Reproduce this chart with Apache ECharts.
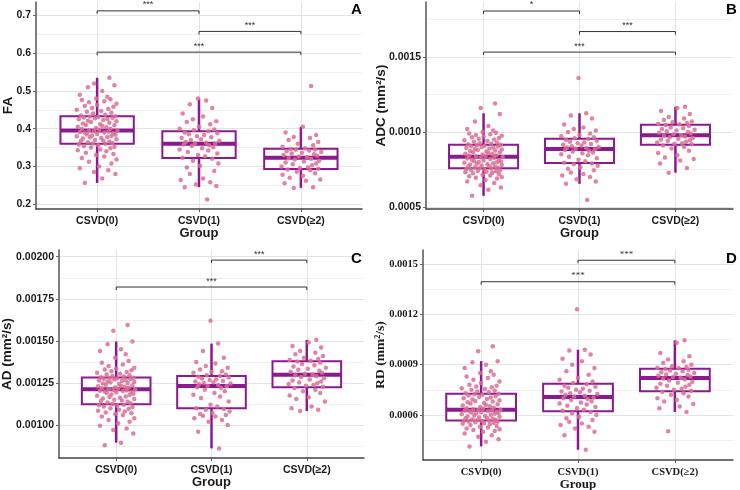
<!DOCTYPE html>
<html><head><meta charset="utf-8">
<script src="https://cdn.jsdelivr.net/npm/echarts@6/dist/echarts.min.js"></script>
<style>html,body{margin:0;padding:0;background:#fff}#c{width:740px;height:490px}</style>
</head><body><div id="c"></div>
<script>
// ---------- categories ----------
const categories = ['CSVD(0)', 'CSVD(1)', 'CSVD(≥2)'];

// ---------- horizontal jitter offsets (category units) ----------
const jitter0 = [-0.12,0.05,0.18,-0.03,0.11,-0.17,0.02,0.14,-0.08,0.19,-0.15,0.07,-0.01,0.16,-0.11,0.09,-0.19,0.03,0.13,-0.06,
0.17,-0.13,0.01,-0.18,0.08,-0.04,0.15,-0.09,0.12,-0.16,0.06,-0.02,0.19,-0.14,0.04,-0.07,0.10,-0.20,0.14,-0.05,
0.18,-0.10,0.00,0.16,-0.12,0.07,-0.17,0.11,-0.03,0.20,-0.08,0.02,-0.15,0.13,-0.01,0.09,-0.19,0.05,0.17,-0.11,
0.03,-0.14,0.12,-0.06,0.19,-0.09,0.06,-0.18,0.10,-0.02,0.15,-0.13,0.01,-0.07,0.18,-0.16,0.08,-0.04,0.14,-0.10,
0.04,-0.20,0.11,-0.05,0.16,-0.12,0.00,0.19,-0.08,0.07,-0.15,0.13,-0.01,0.10,-0.17,0.05,-0.09,0.17,-0.03,0.12];
const jitter1 = [0.08,-0.14,0.17,-0.03,0.11,-0.18,0.04,-0.09,0.15,-0.12,0.01,0.19,-0.06,0.13,-0.16,0.06,-0.01,0.18,-0.11,0.09,
-0.19,0.03,0.14,-0.07,0.10,-0.15,0.16,-0.04,0.07,-0.13,0.20,-0.08,0.02,-0.17,0.12,-0.02,0.05,-0.10,0.18,-0.14,
0.09,-0.05,0.15,-0.19,0.00,0.11,-0.12,0.17,-0.06,0.04,-0.16,0.13,-0.09,0.07,-0.01];
const jitter2 = [-0.07,0.12,-0.16,0.05,0.19,-0.11,0.02,-0.18,0.14,-0.04,0.09,-0.13,0.17,-0.01,0.07,-0.19,0.11,-0.08,0.15,-0.15,
0.03,0.18,-0.06,0.10,-0.12,0.06,-0.02,0.16,-0.17,0.13,-0.09,0.01,0.20,-0.14,0.08,-0.05,0.14,-0.10,0.04,-0.18,
0.12,-0.03,0.17,-0.12,0.09,-0.07,0.15,-0.15,0.02,0.10];

// ---------- FA ----------
const faG0 = [0.256,0.268,0.28,0.285,0.29,0.295,0.30,0.308,0.312,0.318,0.322,0.326,0.33,0.333,0.336,0.34,0.343,0.345,0.348,0.35,0.352,0.354,0.356,0.358,0.36,
0.361,0.362,0.364,0.366,0.367,0.369,0.37,0.372,0.374,0.375,0.377,0.378,0.38,0.381,0.382,0.384,0.385,0.386,0.388,0.389,0.39,0.391,0.392,0.393,0.395,
0.396,0.397,0.399,0.40,0.402,0.404,0.405,0.407,0.409,0.41,0.412,0.414,0.416,0.418,0.42,0.421,0.423,0.425,0.426,0.428,0.429,0.43,0.431,0.432,0.433,
0.435,0.437,0.44,0.442,0.445,0.447,0.45,0.452,0.455,0.458,0.46,0.463,0.466,0.47,0.473,0.476,0.478,0.48,0.485,0.49,0.50,0.51,0.515,0.52,0.535];
const faG1 = [0.212,0.245,0.248,0.252,0.258,0.264,0.268,0.28,0.288,0.297,0.302,0.308,0.315,0.32,
0.323,0.327,0.33,0.334,0.338,0.342,0.345,0.348,0.351,0.354,0.356,0.358,0.36,
0.361,0.363,0.365,0.368,0.37,0.372,0.375,0.377,0.38,0.383,0.385,0.388,0.39,0.393,
0.396,0.398,0.40,0.405,0.412,0.418,0.42,0.425,0.432,0.44,0.455,0.465,0.475,0.48];
const faG2 = [0.243,0.245,0.255,0.262,0.265,0.27,0.275,0.278,0.282,0.286,0.29,0.292,
0.294,0.296,0.298,0.30,0.303,0.306,0.308,0.31,0.313,0.315,0.318,0.32,0.322,
0.324,0.326,0.328,0.33,0.332,0.334,0.336,0.338,0.34,0.342,0.344,0.345,0.346,
0.348,0.352,0.356,0.36,0.365,0.37,0.375,0.378,0.383,0.39,0.405,0.513];
const faBox = [[0.256,0.36,0.395,0.433,0.535],[0.245,0.322,0.36,0.393,0.48],[0.243,0.293,0.323,0.347,0.405]];
const faSig = [[1,2,0.7125,'***'],[2,3,0.658,'***'],[1,3,0.603,'***']];
const faTicks = ['0.2','0.3','0.4','0.5','0.6','0.7'];
const faMinor = [0.25,0.35,0.45,0.55,0.65];

// ---------- ADC ----------
const adcG0 = [0.000575,0.000615,0.00063,0.000645,0.00066,0.00067,0.00068,0.00069,0.000695,0.0007,0.000705,0.00071,0.000715,0.00072,0.000725,0.000728,0.000732,0.000735,0.000738,0.000741,0.000745,0.000748,0.000751,0.000754,0.000757,
0.000759,0.000762,0.000765,0.000768,0.000771,0.000774,0.000777,0.00078,0.000783,0.000786,0.000789,0.000792,0.000795,0.000798,0.000801,0.000804,0.000807,0.00081,0.000813,0.000816,0.00082,0.000824,0.000828,0.000831,0.000834,
0.000837,0.00084,0.000843,0.000846,0.00085,0.000853,0.000856,0.00086,0.000863,0.000866,0.00087,0.000873,0.000877,0.00088,0.000884,0.000887,0.000891,0.000894,0.000897,0.0009,0.000903,0.000906,0.000909,0.000912,0.000915,
0.000918,0.000922,0.000926,0.00093,0.000935,0.00094,0.000945,0.00095,0.000955,0.00096,0.000965,0.00097,0.000975,0.00098,0.000985,0.00099,0.000995,0.001,0.00101,0.00102,0.00104,0.00107,0.00112,0.00116,0.00119];
const adcG1 = [0.000547,0.000655,0.00067,0.000685,0.0007,0.00071,0.00072,0.00073,0.000745,0.000755,0.000765,0.000775,0.000785,0.00079,
0.000796,0.000805,0.000815,0.000825,0.000835,0.000845,0.000852,0.000858,0.000864,0.00087,0.000876,0.000881,0.000886,
0.000889,0.000893,0.000897,0.0009,0.000905,0.00091,0.000915,0.00092,0.000925,0.00093,0.000936,0.000942,0.000948,0.000954,
0.000958,0.000965,0.000972,0.00098,0.00099,0.001,0.00101,0.00102,0.00103,0.00105,0.00109,0.00111,0.001125,0.00136];
const adcG2 = [0.000729,0.00076,0.00079,0.00081,0.00082,0.00083,0.000845,0.00086,0.000875,0.00089,0.0009,0.00091,
0.000918,0.000922,0.000926,0.00093,0.000935,0.00094,0.000945,0.00095,0.000955,0.00096,0.000965,0.00097,0.000976,
0.00098,0.000985,0.00099,0.000995,0.001,0.001005,0.00101,0.001015,0.00102,0.001025,0.00103,0.00104,0.001047,
0.001052,0.001056,0.00106,0.001065,0.00107,0.00108,0.00109,0.0011,0.00112,0.00114,0.00116,0.001169];
const adcBox = [[0.000575,0.000758,0.000835,0.000916,0.001125],[0.000655,0.000793,0.000887,0.000955,0.001125],[0.000729,0.000916,0.000978,0.001049,0.001169]];
const adcSig = [[1,2,0.001807,'*'],[2,3,0.00167,'***'],[1,3,0.001533,'***']];
const adcTicks = ['0.0005','0.0010','0.0015'];
const adcMinor = [0.00075,0.00125,0.00175];

// ---------- AD ----------
const adG0 = [0.00088,0.000895,0.00095,0.00097,0.00098,0.000995,0.00101,0.00102,0.00103,0.00104,0.00105,0.00106,0.001065,0.00107,0.001075,0.00108,0.001085,0.00109,0.001095,0.0011,0.001105,0.00111,0.001115,0.001118,0.001121,
0.001125,0.00113,0.001134,0.001138,0.001142,0.001146,0.00115,0.001154,0.001158,0.001162,0.001166,0.00117,0.001174,0.001178,0.001182,0.001186,0.00119,0.001193,0.001196,0.001199,0.001202,0.001204,0.001207,0.001209,0.001211,
0.001213,0.001216,0.001219,0.001222,0.001225,0.001228,0.001231,0.001234,0.001237,0.00124,0.001243,0.001246,0.001249,0.001252,0.001255,0.001258,0.001261,0.001264,0.001267,0.00127,0.001272,0.001275,0.001277,0.001279,0.001281,
0.001284,0.001288,0.001292,0.001296,0.0013,0.001305,0.00131,0.001315,0.00132,0.001325,0.00133,0.001335,0.00134,0.00135,0.00136,0.00137,0.00138,0.0014,0.00142,0.00144,0.00145,0.00148,0.001496,0.00156,0.001595];
const adG1 = [0.000861,0.00096,0.001,0.00102,0.00103,0.00104,0.00105,0.001055,0.00106,0.001065,0.00107,0.00108,0.00109,0.001095,
0.0011,0.00111,0.00112,0.00114,0.00116,0.00117,0.00118,0.00119,0.0012,0.00121,0.00122,0.001225,0.00123,
0.001234,0.001238,0.001242,0.001246,0.00125,0.001254,0.001258,0.001262,0.001267,0.001272,0.001277,0.001282,0.001287,0.001291,
0.001295,0.0013,0.00131,0.001315,0.00132,0.00133,0.00134,0.00135,0.001365,0.001375,0.0014,0.00144,0.001484,0.00162];
const adG2 = [0.001083,0.00109,0.0011,0.00111,0.00114,0.001155,0.001165,0.001175,0.00119,0.0012,0.00121,0.00122,
0.001228,0.001233,0.001238,0.001243,0.001248,0.001253,0.001258,0.001264,0.00127,0.001278,0.001285,0.00129,0.001296,
0.0013,0.001305,0.00131,0.001316,0.001322,0.001328,0.001334,0.00134,0.001347,0.001355,0.001362,0.00137,0.001377,
0.001382,0.001387,0.001393,0.0014,0.00141,0.00142,0.00143,0.00144,0.00146,0.00147,0.00149,0.001506];
const adBox = [[0.000895,0.001123,0.001212,0.001282,0.001496],[0.000861,0.001099,0.001232,0.001292,0.001484],[0.001083,0.001225,0.001298,0.001379,0.001506]];
const adSig = [[2,3,0.00198,'***'],[1,3,0.00182,'***']];
const adTicks = ['0.00100','0.00125','0.00150','0.00175','0.00200'];
const adMinor = [0.000875,0.001125,0.001375,0.001625,0.001875];

// ---------- RD ----------
const rdG0 = [0.000413,0.00044,0.000455,0.00047,0.00048,0.00049,0.0005,0.000505,0.00051,0.000515,0.00052,0.000525,0.00053,0.000535,0.00054,0.000545,0.000548,0.000551,0.000554,0.000557,0.00056,0.000562,0.000564,0.000566,0.000567,
0.000569,0.000572,0.000575,0.000578,0.000581,0.000584,0.000587,0.00059,0.000593,0.000596,0.000599,0.000602,0.000605,0.000607,0.00061,0.000612,0.000615,0.000617,0.00062,0.000622,0.000624,0.000626,0.000628,0.00063,0.000631,
0.000634,0.000637,0.00064,0.000644,0.000648,0.000652,0.000656,0.00066,0.000664,0.000668,0.000672,0.000676,0.00068,0.000684,0.000688,0.000692,0.000696,0.0007,0.000704,0.000708,0.000712,0.000716,0.00072,0.000723,0.000726,
0.00073,0.000735,0.00074,0.000745,0.00075,0.000755,0.00076,0.000765,0.00077,0.000775,0.00078,0.00079,0.0008,0.00081,0.00082,0.00083,0.00084,0.00085,0.00086,0.00088,0.0009,0.000915,0.000921,0.00098,0.00101];
const rdG1 = [0.000393,0.00048,0.0005,0.00052,0.00053,0.00054,0.00055,0.00056,0.00057,0.00058,0.00059,0.0006,0.00061,0.000618,
0.000625,0.000632,0.00064,0.000648,0.000655,0.000662,0.000668,0.000675,0.000682,0.00069,0.000695,0.0007,0.000705,
0.00071,0.000715,0.00072,0.000725,0.00073,0.000735,0.00074,0.000745,0.00075,0.000756,0.000762,0.000768,0.000775,0.000783,
0.00079,0.0008,0.00081,0.00082,0.00084,0.00086,0.00088,0.0009,0.00092,0.000935,0.00096,0.000985,0.000989,0.00123];
const rdG2 = [0.000504,0.000618,0.00064,0.00065,0.000665,0.00068,0.00069,0.0007,0.00071,0.00072,0.00073,0.000738,
0.000745,0.00075,0.000756,0.000762,0.000768,0.000774,0.00078,0.000786,0.000792,0.000798,0.000805,0.000811,0.000817,
0.000822,0.000826,0.00083,0.000834,0.000838,0.000842,0.000846,0.00085,0.000855,0.00086,0.000865,0.00087,0.000874,
0.000878,0.000882,0.000886,0.00089,0.0009,0.00091,0.00092,0.00093,0.00095,0.00097,0.00103,0.001045];
const rdBox = [[0.000413,0.000568,0.000632,0.000727,0.000921],[0.000393,0.000622,0.000707,0.000786,0.000989],[0.000618,0.000742,0.00082,0.000876,0.001045]];
const rdSig = [[2,3,0.001522,'***'],[1,3,0.001394,'***']];
const rdTicks = ['0.0006','0.0009','0.0012','0.0015'];
const rdMinor = [0.00045,0.00075,0.00105,0.00135];

// ---------- layout / style ----------
const jitters = [jitter0, jitter1, jitter2];
const SANS = 'Liberation Sans', SERIF = 'Liberation Serif';
const PURPLE = '#8B1A8F', DOT = '#DC6F93';
const BOX_HALF = 0.36;
const panels = [
  {letter:'A', yName:'FA', font:SANS, grid:{left:36, top:2, width:326, height:207}, yMin:0.187, yMax:0.736,
   ticks:faTicks, minor:faMinor, box:faBox, groups:[faG0,faG1,faG2], sig:faSig, nameGap:21, letterPos:[351,2]},
  {letter:'B', yName:'ADC (mm²/s)', font:SANS, grid:{left:426, top:2, width:307, height:207}, yMin:0.000487, yMax:0.001867,
   ticks:adcTicks, minor:adcMinor, box:adcBox, groups:[adcG0,adcG1,adcG2], sig:adcSig, nameGap:38, letterPos:[726,2]},
  {letter:'C', yName:'AD (mm²/s)', font:SANS, grid:{left:59, top:250, width:305, height:208}, yMin:0.000804, yMax:0.00204,
   ticks:adTicks, minor:adMinor, box:adBox, groups:[adG0,adG1,adG2], sig:adSig, nameGap:45, letterPos:[351,251]},
  {letter:'D', yName:'RD (mm²/s)', font:SERIF, grid:{left:423, top:250, width:310, height:210}, yMin:0.000332, yMax:0.001583,
   ticks:rdTicks, minor:rdMinor, box:rdBox, groups:[rdG0,rdG1,rdG2], sig:rdSig, nameGap:35, letterPos:[726,251]}
];

const grid = [], xAxis = [], yAxis = [], series = [], title = [];
const catPos = categories.map((c, i) => i + 1);

panels.forEach((p, k) => {
  grid.push(Object.assign({containLabel:false, outerBoundsMode:'none'}, p.grid));
  const tickVals = p.ticks.map(Number);
  xAxis.push({
    type:'value', gridIndex:k, min:0.4, max:3.6,
    name:'Group', nameLocation:'middle', nameGap:18, nameMoveOverlap:false,
    nameTextStyle:{fontFamily:p.font, fontWeight:'bold', fontSize:13, color:'#1a1a1a'},
    axisLine:{show:true, onZero:false, lineStyle:{color:'#444', width:1.5}},
    axisTick:{show:true, length:3, customValues:catPos, lineStyle:{color:'#555'}},
    axisLabel:{customValues:catPos, margin:7, fontFamily:p.font, fontWeight:'bold', fontSize:10.5, color:'#1a1a1a',
      formatter:v => categories[Math.round(v) - 1]},
    splitLine:{show:true, lineStyle:{color:'#e4e4e4', width:1}}
  });
  yAxis.push({
    type:'value', gridIndex:k, min:p.yMin, max:p.yMax, position:'left',
    name:p.yName, nameLocation:'middle', nameGap:p.nameGap, nameMoveOverlap:false,
    nameTextStyle:{fontFamily:p.font, fontWeight:'bold', fontSize:13.5, color:'#1a1a1a'},
    axisLine:{show:true, onZero:false, lineStyle:{color:'#555', width:1.5}},
    axisTick:{show:true, length:3, customValues:tickVals, lineStyle:{color:'#666'}},
    axisLabel:{customValues:tickVals, margin:5, fontFamily:p.font, fontWeight:'bold', fontSize:10.5, color:'#1a1a1a',
      formatter:v => { const t = p.ticks.find(s => Math.abs(Number(s) - v) < 1e-9); return t === undefined ? '' : t; }},
    splitLine:{show:true, lineStyle:{color:'#e4e4e4', width:1}}
  });
  yAxis.push({
    type:'value', gridIndex:k, min:p.yMin, max:p.yMax, position:'left',
    axisLine:{show:false}, axisTick:{show:false, customValues:p.minor},
    axisLabel:{show:false, customValues:p.minor},
    splitLine:{show:true, lineStyle:{color:'#f0f0f0', width:1}}
  });
  const yIdx = 2 * k;
  const boxData = p.box.map((b, i) => [i + 1].concat(b));

  // whiskers (outside the box only)
  series.push({
    type:'custom', xAxisIndex:k, yAxisIndex:yIdx, z:2, silent:true,
    data:boxData, encode:{x:0, y:[1,2,3,4,5]},
    renderItem:(params, api) => {
      const x = api.value(0);
      const lo = api.coord([x, api.value(1)]), q1 = api.coord([x, api.value(2)]),
            q3 = api.coord([x, api.value(4)]), hi = api.coord([x, api.value(5)]);
      return {type:'group', children:[
        {type:'line', shape:{x1:lo[0], y1:lo[1], x2:q1[0], y2:q1[1]}, style:{stroke:PURPLE, lineWidth:2.5}},
        {type:'line', shape:{x1:q3[0], y1:q3[1], x2:hi[0], y2:hi[1]}, style:{stroke:PURPLE, lineWidth:2.5}}
      ]};
    }
  });
  // box body + median
  series.push({
    type:'custom', xAxisIndex:k, yAxisIndex:yIdx, z:3, silent:true,
    data:boxData, encode:{x:0, y:[1,2,3,4,5]},
    renderItem:(params, api) => {
      const x = api.value(0);
      const q1 = api.coord([x, api.value(2)]), md = api.coord([x, api.value(3)]), q3 = api.coord([x, api.value(4)]);
      const l = api.coord([x - BOX_HALF, api.value(3)])[0], r = api.coord([x + BOX_HALF, api.value(3)])[0];
      return {type:'group', children:[
        {type:'rect', shape:{x:l, y:q3[1], width:r - l, height:q1[1] - q3[1]},
         style:{fill:'#ffffff', stroke:PURPLE, lineWidth:2, opacity:1}},
        {type:'line', shape:{x1:l, y1:md[1], x2:r, y2:md[1]}, style:{stroke:PURPLE, lineWidth:4}}
      ]};
    }
  });

  // jittered points
  p.groups.forEach((vals, g) => {
    series.push({
      type:'scatter', xAxisIndex:k, yAxisIndex:yIdx, z:4, silent:true,
      symbolSize:4.5, itemStyle:{color:DOT, opacity:0.85},
      data:vals.map((v, i) => [g + 1 + jitters[g][i], v])
    });
  });

  // significance brackets
  const sig = p.sig;
  series.push({
    type:'custom', xAxisIndex:k, yAxisIndex:yIdx, z:5, silent:true, clip:false,
    data:sig.map(s => [s[0], s[1], s[2]]),
    encode:{x:[0,1], y:2},
    renderItem:(params, api) => {
      const a = api.coord([api.value(0), api.value(2)]), b = api.coord([api.value(1), api.value(2)]);
      const label = sig[params.dataIndex][3];
      return {type:'group', children:[
        {type:'polyline', shape:{points:[[a[0], a[1] + 3], [a[0], a[1]], [b[0], b[1]], [b[0], b[1] + 3]]},
         style:{stroke:'#333', lineWidth:1, fill:null}},
        {type:'text', x:(a[0] + b[0]) / 2, y:a[1] - 6,
         style:{text:label, fill:'#333', fontSize:9, fontFamily:p.font, align:'center', verticalAlign:'middle'}}
      ]};
    }
  });

  title.push({text:p.letter, left:p.letterPos[0], top:p.letterPos[1], padding:0,
    textStyle:{fontFamily:SANS, fontWeight:'bold', fontSize:15, color:'#000'}});
});

const chart = echarts.init(document.getElementById('c'), null, {renderer:'canvas'});
chart.setOption({animation:false, backgroundColor:'#fff', title, grid, xAxis, yAxis, series});
</script>
</body></html>
